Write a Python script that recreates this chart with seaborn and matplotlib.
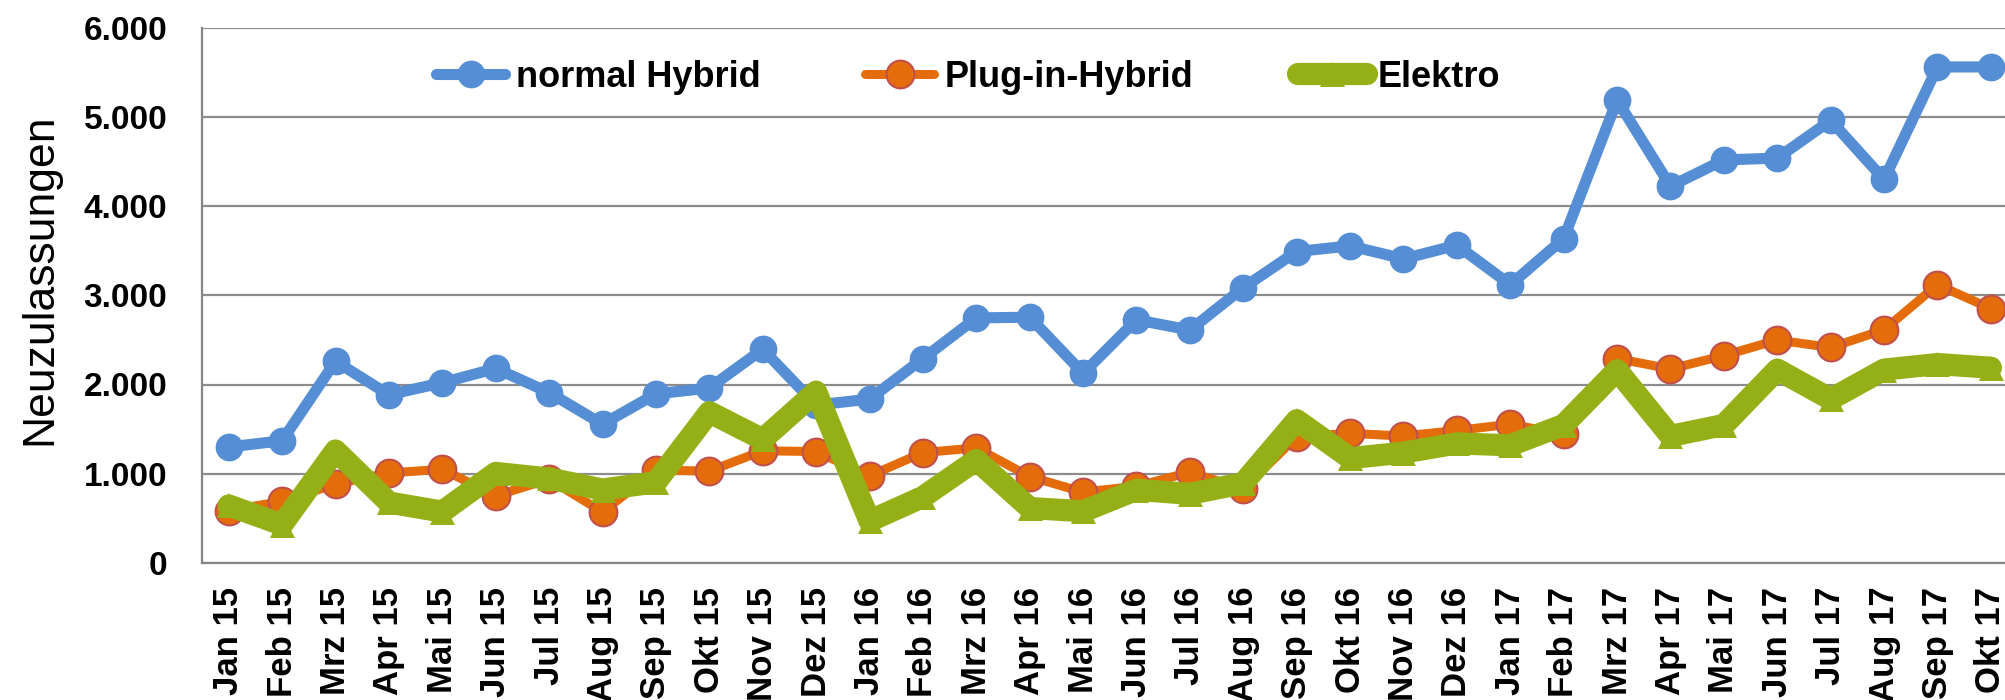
import matplotlib
matplotlib.use("Agg")
import matplotlib.pyplot as plt
from matplotlib.ticker import FuncFormatter, FixedLocator
import seaborn as sns
import pandas as pd

# Monatliche Neuzulassungen
months = ["Jan 15", "Feb 15", "Mrz 15", "Apr 15", "Mai 15", "Jun 15", "Jul 15", "Aug 15",
          "Sep 15", "Okt 15", "Nov 15", "Dez 15", "Jan 16", "Feb 16", "Mrz 16", "Apr 16",
          "Mai 16", "Jun 16", "Jul 16", "Aug 16", "Sep 16", "Okt 16", "Nov 16", "Dez 16",
          "Jan 17", "Feb 17", "Mrz 17", "Apr 17", "Mai 17", "Jun 17", "Jul 17", "Aug 17",
          "Sep 17", "Okt 17"]

normal_hybrid = [1300, 1370, 2260, 1885, 2020, 2180, 1910, 1555, 1895, 1960, 2395, 1770,
                 1836, 2290, 2746, 2754, 2126, 2725, 2610, 3085, 3490, 3553, 3408, 3561,
                 3118, 3635, 5186, 4222, 4516, 4537, 4959, 4297, 5558, 5558]

plug_in_hybrid = [587, 691, 885, 1009, 1050, 753, 939, 571, 1040, 1030, 1257, 1249,
                  976, 1237, 1290, 968, 794, 860, 1017, 830, 1415, 1452, 1423, 1485,
                  1555, 1443, 2291, 2175, 2324, 2498, 2415, 2614, 3118, 2850]

elektro = [645, 430, 1260, 678, 575, 1009, 947, 823, 905, 1690, 1385, 1919,
           471, 740, 1154, 616, 580, 820, 775, 895, 1600, 1175, 1237, 1340,
           1319, 1547, 2160, 1423, 1547, 2167, 1836, 2167, 2229, 2188]

df = pd.DataFrame({"Monat": months, "normal Hybrid": normal_hybrid,
                   "Plug-in-Hybrid": plug_in_hybrid, "Elektro": elektro})

sns.set_style("white")
plt.rcParams["font.family"] = ["Liberation Sans", "DejaVu Sans"]
plt.rcParams["text.color"] = "black"
plt.rcParams["axes.labelcolor"] = "black"

fig = plt.figure(figsize=(20.05, 7), dpi=100)
ax = fig.add_axes([202 / 2005, 1 - 563 / 700, 34 * 53.4 / 2005, (563 - 27.5) / 700])

# Serien
sns.lineplot(data=df, x="Monat", y="normal Hybrid", ax=ax, sort=False,
             color="#558ED5", linewidth=8, marker="o", markersize=20,
             markeredgewidth=0, label="normal Hybrid", zorder=3)
sns.lineplot(data=df, x="Monat", y="Plug-in-Hybrid", ax=ax, sort=False,
             color="#E46C0A", linewidth=6.5, marker="o", markersize=20,
             markeredgecolor="#C0504D", markeredgewidth=1.5,
             label="Plug-in-Hybrid", zorder=4)
sns.lineplot(data=df, x="Monat", y="Elektro", ax=ax, sort=False,
             color="#95B017", linewidth=16, marker="^", markersize=18,
             markeredgewidth=0, label="Elektro", zorder=5)

ax.set_xlim(-0.5, len(months) - 0.5)
ax.set_ylim(0, 6000)
ax.set_yticks(range(0, 6001, 1000))
ax.yaxis.set_major_formatter(FuncFormatter(lambda v, p: f"{v:,.0f}".replace(",", ".")))

ax.grid(axis="y", color="#8C8C8C", linewidth=1.6)
ax.grid(axis="x", visible=False)
for side in ["top", "right"]:
    ax.spines[side].set_visible(False)
for side in ["left", "bottom"]:
    ax.spines[side].set_color("#868686")
    ax.spines[side].set_linewidth(1.6)

# Kategorie-Achse: Striche zwischen den Monaten
ax.xaxis.set_minor_locator(FixedLocator([i - 0.5 for i in range(len(months) + 1)]))
ax.tick_params(axis="x", which="major", length=0, pad=17, labelsize=25, rotation=90,
               labelcolor="black")
ax.tick_params(axis="x", which="minor", length=8, width=1.6, color="#868686", direction="out")
ax.tick_params(axis="y", which="major", length=7, width=1.6, color="#868686",
               labelsize=24, pad=18, labelcolor="black")
for lbl in ax.get_xticklabels() + ax.get_yticklabels():
    lbl.set_fontweight("bold")

ax.set_xlabel("")
ax.set_ylabel("Neuzulassungen", fontsize=32, color="black")
ax.yaxis.set_label_coords(-0.078, 0.53)

leg = ax.legend(loc="upper center", bbox_to_anchor=(0.422, 1.0), ncol=3, frameon=False,
                prop={"weight": "bold", "size": 26}, handlelength=1.9,
                handletextpad=0.3, columnspacing=2.9)
for t in leg.get_texts():
    t.set_color("black")

fig.savefig("out.png", dpi=100)
